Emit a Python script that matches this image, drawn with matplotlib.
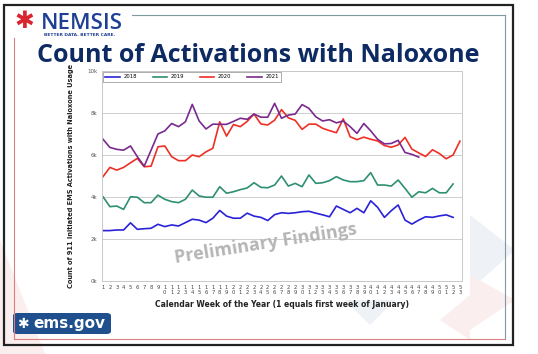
import matplotlib
matplotlib.use("Agg")
import matplotlib.pyplot as plt
from matplotlib.patches import Rectangle, FancyBboxPatch, Polygon
from matplotlib.lines import Line2D

# weekly counts
years = ["2018", "2019", "2020", "2021"]
colors = ["#2a22d6", "#2e8f73", "#ee2f26", "#7a2a8e"]

y2018 = [2400, 2400, 2430, 2430, 2770, 2460, 2490, 2510, 2700, 2590,
         2670, 2620, 2780, 2940, 2900, 2780, 2990, 3360, 3090, 2990,
         2990, 3230, 3090, 3030, 2880, 3160, 3250, 3220, 3250, 3300,
         3320, 3230, 3150, 3060, 3570, 3410, 3250, 3460, 3250, 3820,
         3510, 3030, 3350, 3620, 2900, 2710, 2900, 3060, 3030, 3100,
         3150, 3030]
y2019 = [4010, 3540, 3570, 3410, 4010, 3990, 3730, 3730, 4090, 3890,
         3780, 3730, 3890, 4330, 4050, 3990, 3990, 4490, 4180, 4250,
         4350, 4430, 4680, 4460, 4440, 4570, 5000, 4520, 4650, 4490,
         5050, 4650, 4680, 4780, 4970, 4810, 4730, 4730, 4780, 5160,
         4570, 4570, 4520, 4810, 4410, 3990, 4250, 4200, 4410, 4200,
         4200, 4620]
y2020 = [4970, 5410, 5280, 5410, 5630, 5840, 5440, 5470, 6390, 6430,
         5920, 5730, 5730, 6000, 5920, 6150, 6320, 7580, 6900, 7450,
         7350, 7600, 7950, 7480, 7430, 7660, 8160, 7770, 7650, 7220,
         7470, 7470, 7270, 7160, 7060, 7720, 6870, 6730, 6850, 6750,
         6670, 6450, 6370, 6480, 6840, 6280, 6100, 5930, 6250, 6070,
         5820, 6000, 6660]
y2021 = [6750, 6360, 6270, 6230, 6430, 5920, 5470, 6230, 7000, 7150,
         7500, 7350, 7580, 8410, 7620, 7240, 7470, 7460, 7460, 7600,
         7750, 7700, 7950, 7800, 7800, 8460, 7750, 7900, 7950, 8400,
         8220, 7820, 7620, 7680, 7530, 7620, 7350, 7030, 7500, 7150,
         6750, 6530, 6550, 6700, 6120, 6030, 5900]
series = [y2018, y2019, y2020, y2021]

weeks = list(range(1, 54))
week_labels = ["\n".join(str(w)) for w in weeks]
y_ticks = [0, 2000, 4000, 6000, 8000, 10000]
y_labels = ["0k", "2k", "4k", "6k", "8k", "10k"]

W, H = 538, 354


def fx(x):
    return x / W


def fy(y):
    return 1 - y / H


fig = plt.figure(figsize=(W / 100, H / 100), dpi=100)
fig.patch.set_facecolor("white")

# faint background decoration
for pts, col in [([(0, 240), (45, 354), (0, 354)], "#fbeeee"),
                 ([(470, 215), (515, 250), (470, 290)], "#eef1f5"),
                 ([(470, 275), (515, 300), (470, 330)], "#fbeeee"),
                 ([(345, 300), (395, 300), (370, 325)], "#eef1f5"),
                 ([(440, 320), (470, 295), (470, 340)], "#fbeeee")]:
    fig.add_artist(Polygon([(fx(a), fy(b)) for a, b in pts], closed=True,
                           transform=fig.transFigure, facecolor=col,
                           edgecolor="none", zorder=0))

# slide frame
fig.add_artist(Rectangle((fx(4), fy(345)), fx(509), 340 / H,
                         transform=fig.transFigure, fill=False,
                         edgecolor="#222222", linewidth=1.6, zorder=1))
fig.add_artist(Line2D([fx(132), fx(505)], [fy(15), fy(15)],
                      transform=fig.transFigure, color="#7f9aa0", lw=0.8))
fig.add_artist(Line2D([fx(505), fx(505)], [fy(15), fy(339)],
                      transform=fig.transFigure, color="#7f9aa0", lw=0.8))
fig.add_artist(Line2D([fx(14), fx(505)], [fy(339), fy(339)],
                      transform=fig.transFigure, color="#d98080", lw=0.8))
fig.add_artist(Line2D([fx(14), fx(14)], [fy(38), fy(339)],
                      transform=fig.transFigure, color="#d98080", lw=0.8))

# NEMSIS logo
fig.text(fx(24), fy(21), "\u2731", color="#d8262f", fontsize=17,
         ha="center", va="center", family="DejaVu Sans")
fig.text(fx(41), fy(29), "NEMSIS", color="#1e3f94", fontsize=16,
         fontweight="semibold", family="Open Sans", ha="left",
         va="baseline")
fig.text(fx(44), fy(35), "BETTER DATA. BETTER CARE.", color="#1e3f94",
         fontsize=3.2, fontweight="bold", ha="left", va="center")

# title
fig.text(fx(258), fy(56), "Count of Activations with Naloxone",
         color="#0e2a63", fontsize=18, fontweight="bold",
         family="Open Sans", ha="center", va="center")

# ems.gov logo
fig.add_artist(FancyBboxPatch((fx(13), fy(334)), fx(98), 21 / H,
                              boxstyle="round,pad=0,rounding_size=0.008",
                              transform=fig.transFigure,
                              facecolor="#1f4f8c", edgecolor="none"))
fig.text(fx(23), fy(323.5), "\u2731", color="white", fontsize=10,
         ha="center", va="center", family="DejaVu Sans")
fig.text(fx(33), fy(323.5), "ems.gov", color="white", fontsize=11,
         fontweight="bold", ha="left", va="center", family="DejaVu Sans")

# chart
ax = fig.add_axes([fx(102), fy(281), fx(360), 210 / H])
for yr, vals, c in zip(years, series, colors):
    ax.plot(weeks[:len(vals)], vals, color=c, lw=1.2, label=yr)

ax.set_xlim(0.85, 53.3)
ax.set_ylim(0, 10000)
ax.set_xticks(weeks)
ax.set_xticklabels(week_labels, fontsize=3.8, color="#444444",
                   linespacing=0.9)
ax.set_yticks(y_ticks)
ax.set_yticklabels(y_labels, fontsize=4, color="#555555")
ax.tick_params(length=0, pad=3)
ax.grid(axis="y", color="#cfcfcf", lw=0.7)
ax.set_axisbelow(True)
for s in ax.spines.values():
    s.set_color("#c8c8c8")
    s.set_linewidth(0.7)

ax.set_ylabel("Count of 911 Initiated EMS Activations with Naloxone Usage",
              fontsize=4.8, fontweight="bold", color="#222222", labelpad=10)
ax.set_xlabel("Calendar Week of the Year (1 equals first week of January)",
              fontsize=5.5, fontweight="bold", color="#222222", labelpad=4)

leg = ax.legend(loc="upper left", ncol=4, fontsize=3.8, frameon=True,
                fancybox=False, borderaxespad=0.15, handlelength=2.7,
                handletextpad=0.7, columnspacing=3.0, borderpad=0.5)
leg.get_frame().set_edgecolor("#888888")
leg.get_frame().set_linewidth(0.6)

# watermark
ax.text(0.455, 0.18, "Preliminary Findings", transform=ax.transAxes,
        fontsize=13, fontweight="bold", family="Open Sans",
        color="#b5b5b5", rotation=9, ha="center", va="center")

fig.savefig("out.png", dpi=100)
